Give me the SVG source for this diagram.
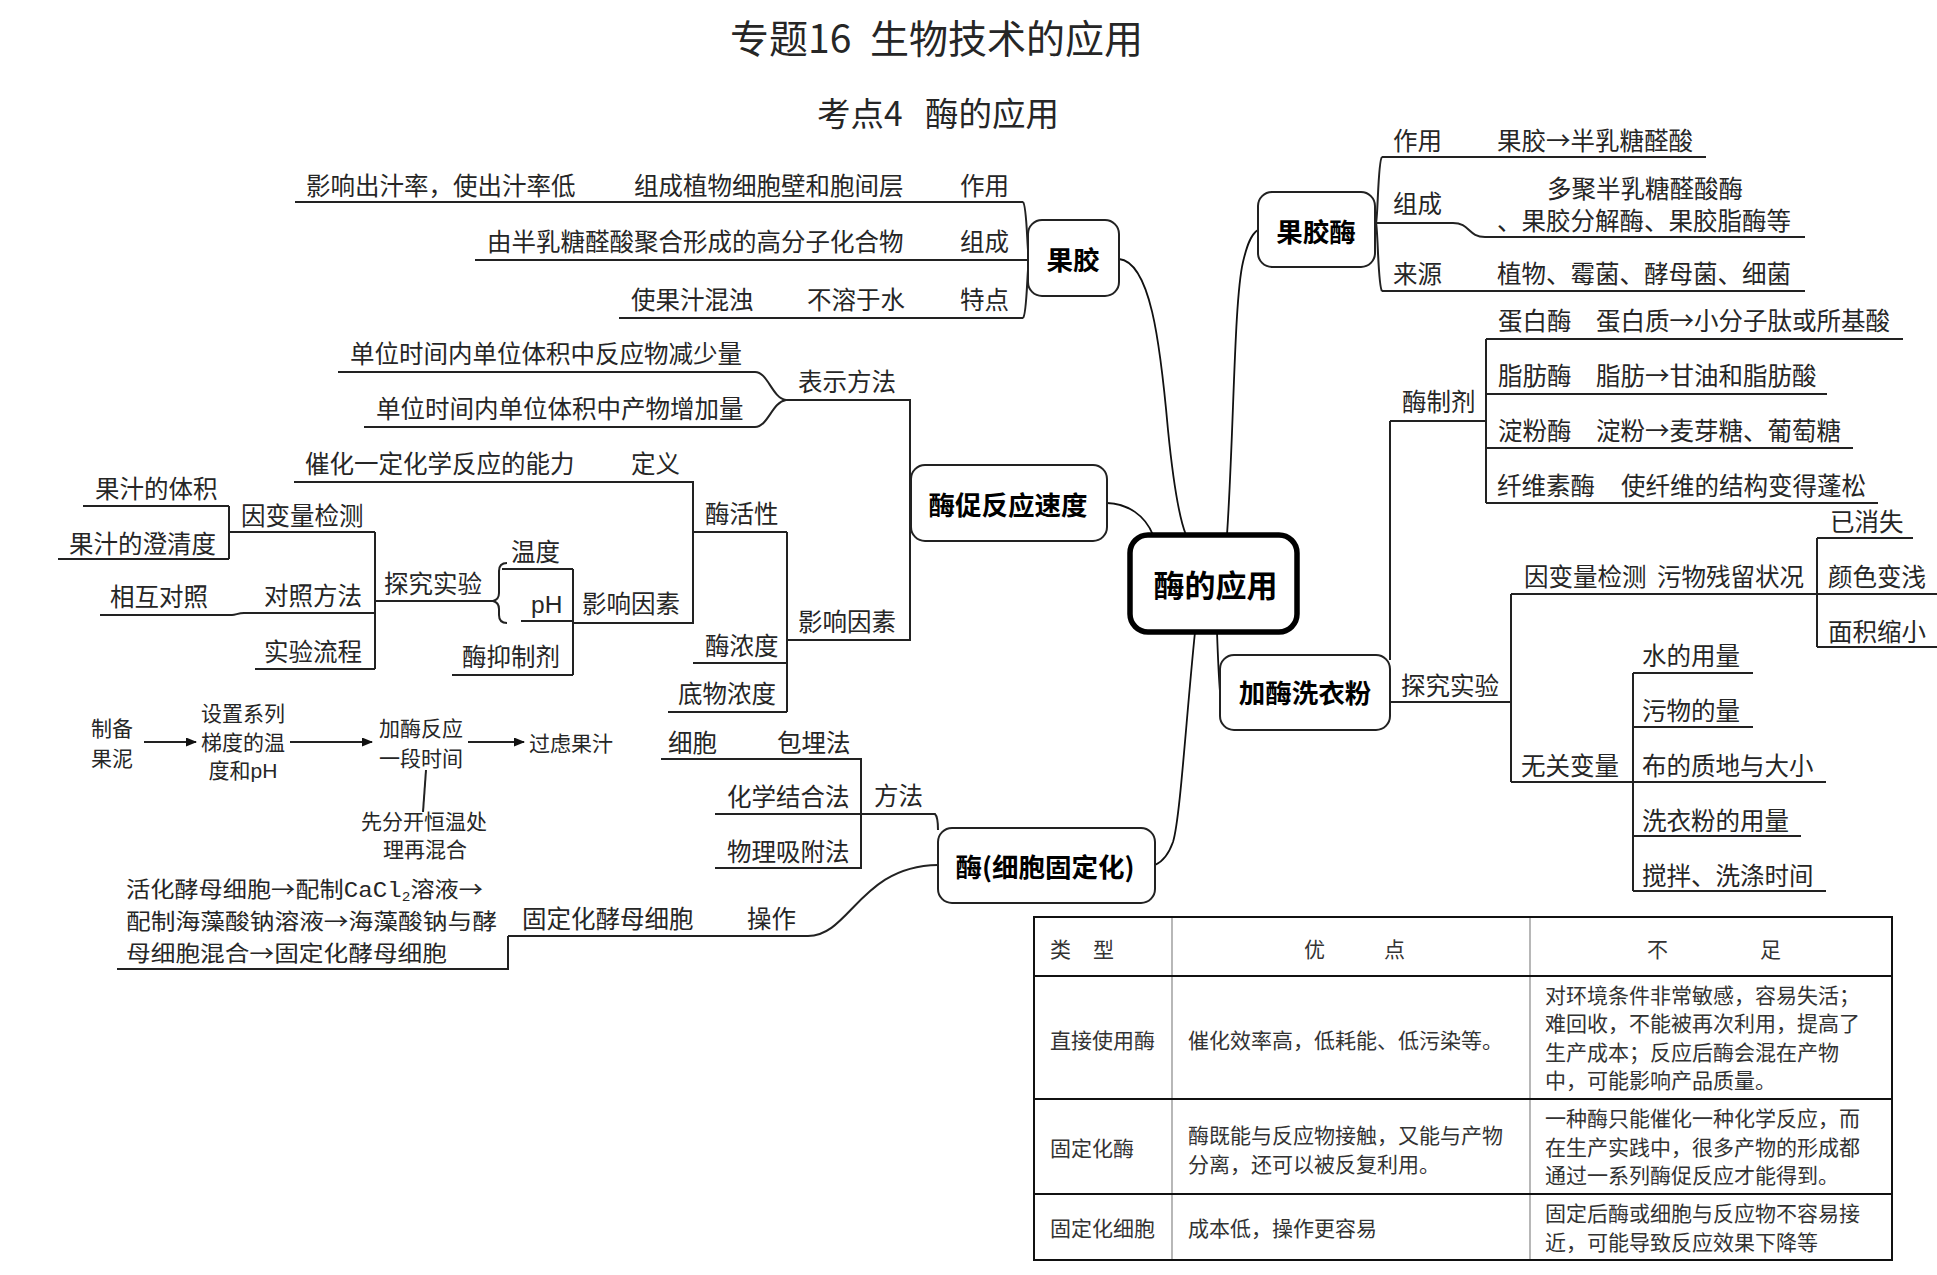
<svg xmlns="http://www.w3.org/2000/svg" width="1937" height="1275" viewBox="0 0 1937 1275">
<defs>
<style>
text{font-family:"Noto Sans CJK SC","Noto Sans",sans-serif;fill:#262626}
.t{font-size:24.5px}
.s{font-size:21.8px}
.f{font-size:21px}
.c{font-size:21px;fill:#333}
.b{font-size:26.5px;font-weight:700;fill:#000;text-anchor:middle}
.bc{font-size:31px;font-weight:700;fill:#000;text-anchor:middle}
.m{text-anchor:middle}
.en{font-family:"Liberation Sans",Arial,sans-serif}
.mono{font-family:"Liberation Mono","Courier New",monospace}
.ln{fill:none;stroke:#222;stroke-width:2}
.cv{fill:none;stroke:#111;stroke-width:1.8}
.box{fill:#fff;stroke:#222;stroke-width:2}
.tl{stroke:#888;stroke-width:1.2}
.tr{stroke:#111;stroke-width:2}
</style>
<marker id="ah" markerWidth="11" markerHeight="9" refX="10" refY="4.5" orient="auto" markerUnits="userSpaceOnUse"><path d="M0,0 L11,4.5 L0,9 Z" fill="#111"/></marker>
</defs>
<rect width="1937" height="1275" fill="#fff"/>

<g id="title">
<text x="730" y="53" font-size="39">专题16</text>
<text x="870" y="53" font-size="39">生物技术的应用</text>
<text x="817" y="126" font-size="33.5" fill="#333">考点4</text>
<text x="925" y="126" font-size="33.5" fill="#333">酶的应用</text>
</g>

<g id="connectors">
<path class="cv" d="M1119,259 C1150,262 1160,340 1168,430 C1174,490 1180,520 1186,535"/>
<path class="cv" d="M1227,535 C1234,430 1234,300 1243,262 C1247,245 1251,234 1258,230"/>
<path class="cv" d="M1107,503 C1128,504 1145,515 1153,535"/>
<path class="cv" d="M1217,632 C1218,660 1219,680 1220,692"/>
<path class="cv" d="M1195,632 C1186,720 1180,820 1173,842 C1168,856 1162,862 1155,865"/>

<path class="ln" d="M295,202 H1023"/>
<path class="ln" d="M475,260 H1029"/>
<path class="ln" d="M619,318 H1023"/>
<path class="ln" d="M1023,202 C1027,205 1027,250 1029,260 C1027,270 1027,315 1023,318"/>

<path class="ln" d="M338,372 H755 C768,372 772,398 786,400"/>
<path class="ln" d="M364,427 H755 C768,427 772,402 786,400"/>
<path class="ln" d="M786,400 H910 V640 H786"/>
<path class="ln" d="M787,532 V712"/>
<path class="ln" d="M693,532 H787"/>
<path class="ln" d="M294,482 H693 V623 H573"/>
<path class="ln" d="M693,663 H787"/>
<path class="ln" d="M668,712 H787"/>
<path class="ln" d="M573,569 V675"/>
<path class="ln" d="M502,569 H573"/>
<path class="ln" d="M521,621 H573"/>
<path class="ln" d="M452,675 H573"/>
<path class="ln" d="M507,563 C501,563 499,566 499,571 V593 C499,598 497,600 493,601 C497,602 499,604 499,609 V615 C499,620 501,623 507,623"/>
<path class="ln" d="M375,601 H493"/>
<path class="ln" d="M375,532 V669"/>
<path class="ln" d="M229,532 H375"/>
<path class="ln" d="M229,506 V559"/>
<path class="ln" d="M83,506 H229"/>
<path class="ln" d="M58,559 H229"/>
<path class="ln" d="M100,615 H232 C236,615 238,613 244,613 H375"/>
<path class="ln" d="M255,669 H375"/>

<path class="ln" d="M144,742 H196" marker-end="url(#ah)"/>
<path class="ln" d="M290,742 H372" marker-end="url(#ah)"/>
<path class="ln" d="M468,742 H524" marker-end="url(#ah)"/>
<path class="ln" d="M426,770 L423,812" stroke-width="1.5"/>

<path class="ln" d="M661,759 H861 V868 H715"/>
<path class="ln" d="M715,814 H935 C937,816 938,824 938,830"/>
<path class="ln" d="M508,936 H808 C850,936 860,866 938,865"/>
<path class="ln" d="M117,969 H508 V936"/>

<path class="ln" d="M1382,157 H1706"/>
<path class="ln" d="M1375,223 H1453 C1470,223 1468,237 1485,237 H1805"/>
<path class="ln" d="M1382,291 H1805"/>
<path class="ln" d="M1382,157 C1378,160 1378,215 1376,223 C1378,231 1378,287 1382,291"/>

<path class="ln" d="M1390,421 H1486"/>
<path class="ln" d="M1486,339 V503"/>
<path class="ln" d="M1486,339 H1903"/>
<path class="ln" d="M1486,394 H1827"/>
<path class="ln" d="M1486,448 H1853"/>
<path class="ln" d="M1486,503 H1878"/>
<path class="ln" d="M1390,421 V660"/>

<path class="ln" d="M1390,702 H1511"/>
<path class="ln" d="M1511,594 V782"/>
<path class="ln" d="M1511,594 H1937"/>
<path class="ln" d="M1817,538 V647"/>
<path class="ln" d="M1817,538 H1913"/>
<path class="ln" d="M1817,647 H1937"/>
<path class="ln" d="M1511,782 H1633"/>
<path class="ln" d="M1633,673 V891"/>
<path class="ln" d="M1633,673 H1753"/>
<path class="ln" d="M1633,727 H1753"/>
<path class="ln" d="M1633,782 H1826"/>
<path class="ln" d="M1633,836 H1801"/>
<path class="ln" d="M1633,891 H1826"/>
</g>

<g id="center">
<rect x="1130" y="535" width="167" height="97" rx="18" fill="#fff" stroke="#000" stroke-width="5.5"/>
<text x="1215.5" y="597" class="bc">酶的应用</text>
</g>
<g id="guojiao">
<rect class="box" x="1028" y="220" width="91" height="76" rx="14"/>
<text x="1073" y="270" class="b">果胶</text>
</g>
<g id="mucu">
<rect class="box" x="911" y="465" width="196" height="76" rx="14"/>
<text x="1008" y="515" class="b">酶促反应速度</text>
</g>
<g id="guojiaomei">
<rect class="box" x="1258" y="192" width="117" height="75" rx="14"/>
<text x="1316" y="242" class="b">果胶酶</text>
</g>
<g id="xiyifen">
<rect class="box" x="1220" y="655" width="170" height="75" rx="14"/>
<text x="1305" y="703" class="b">加酶洗衣粉</text>
</g>
<g id="guding">
<rect class="box" x="938" y="828" width="217" height="75" rx="14"/>
<text x="1045" y="877" class="b">酶(细胞固定化)</text>
</g>

<g id="gj-zuoyong"><text class="t" x="306" y="195">影响出汁率，使出汁率低</text><text class="t" x="634" y="195">组成植物细胞壁和胞间层</text><text class="t" x="960" y="195">作用</text></g>
<g id="gj-zucheng"><text class="t" x="487" y="251">由半乳糖醛酸聚合形成的高分子化合物</text><text class="t" x="960" y="251">组成</text></g>
<g id="gj-tedian"><text class="t" x="631" y="309">使果汁混浊</text><text class="t" x="807" y="309">不溶于水</text><text class="t" x="960" y="309">特点</text></g>

<g id="biaoshi"><text class="t" x="798" y="391">表示方法</text></g>
<g id="biaoshi-1"><text class="t" x="350" y="363">单位时间内单位体积中反应物减少量</text></g>
<g id="biaoshi-2"><text class="t" x="376" y="418">单位时间内单位体积中产物增加量</text></g>
<g id="yingxiang"><text class="t" x="798" y="631">影响因素</text></g>
<g id="mhx"><text class="t" x="705" y="523">酶活性</text></g>
<g id="dingyi"><text class="t" x="305" y="473">催化一定化学反应的能力</text><text class="t" x="631" y="473">定义</text></g>
<g id="mnd"><text class="t" x="705" y="655">酶浓度</text></g>
<g id="dwnd"><text class="t" x="678" y="703">底物浓度</text></g>
<g id="yingxiang2"><text class="t" x="582" y="613">影响因素</text></g>
<g id="wendu"><text class="t" x="511" y="561">温度</text></g>
<g id="ph"><text class="t en" x="531" y="613">pH</text></g>
<g id="yizhiji"><text class="t" x="462" y="666">酶抑制剂</text></g>
<g id="tanjiu"><text class="t" x="384" y="593">探究实验</text></g>
<g id="yinbianliang"><text class="t" x="241" y="525">因变量检测</text></g>
<g id="tiji"><text class="t" x="95" y="498">果汁的体积</text></g>
<g id="chengqing"><text class="t" x="69" y="553">果汁的澄清度</text></g>
<g id="duizhao"><text class="t" x="264" y="605">对照方法</text></g>
<g id="huxiang"><text class="t" x="110" y="606">相互对照</text></g>
<g id="liucheng"><text class="t" x="264" y="661">实验流程</text></g>

<g id="flow">
<text class="f m" x="112" y="736">制备<tspan x="112" dy="30">果泥</tspan></text>
<text class="f m" x="243" y="721">设置系列<tspan x="243" dy="29">梯度的温</tspan><tspan x="243" dy="28">度和</tspan><tspan class="en">pH</tspan></text>
<text class="f m" x="421" y="736">加酶反应<tspan x="421" dy="30">一段时间</tspan></text>
<text class="f" x="529" y="751">过虑果汁</text>
<text class="f m" x="424" y="829">先分开恒温处<tspan x="425" dy="28">理再混合</tspan></text>
</g>

<g id="baomai"><text class="t" x="668" y="752">细胞</text><text class="t" x="777" y="752">包埋法</text></g>
<g id="huaxue"><text class="t" x="727" y="806">化学结合法</text></g>
<g id="fangfa"><text class="t" x="874" y="805">方法</text></g>
<g id="wuli"><text class="t" x="727" y="861">物理吸附法</text></g>
<g id="caozuo"><text class="t" x="522" y="928">固定化酵母细胞</text><text class="t" x="747" y="928">操作</text></g>
<g id="buzhou">
<text class="s" x="126" y="897" textLength="357" lengthAdjust="spacingAndGlyphs">活化酵母细胞→配制<tspan class="mono">CaCl</tspan><tspan class="mono" font-size="13" dy="4">2</tspan><tspan dy="-4">溶液→</tspan></text>
<text class="s" x="126" y="929" textLength="371" lengthAdjust="spacingAndGlyphs">配制海藻酸钠溶液→海藻酸钠与酵</text>
<text class="s" x="126" y="961" textLength="321" lengthAdjust="spacingAndGlyphs">母细胞混合→固定化酵母细胞</text>
</g>

<g id="gjm-zuoyong"><text class="t" x="1393" y="150">作用</text><text class="t" x="1497" y="150">果胶→半乳糖醛酸</text></g>
<g id="gjm-zucheng"><text class="t" x="1393" y="213">组成</text><text class="t" x="1547" y="198">多聚半乳糖醛酸酶<tspan x="1497" dy="32">、果胶分解酶、果胶脂酶等</tspan></text></g>
<g id="gjm-laiyuan"><text class="t" x="1393" y="283">来源</text><text class="t" x="1497" y="283">植物、霉菌、酵母菌、细菌</text></g>

<g id="meizhiji"><text class="t" x="1402" y="411">酶制剂</text></g>
<g id="danbai"><text class="t" x="1498" y="330">蛋白酶</text><text class="t" x="1596" y="330">蛋白质→小分子肽或所基酸</text></g>
<g id="zhifang"><text class="t" x="1498" y="385">脂肪酶</text><text class="t" x="1596" y="385">脂肪→甘油和脂肪酸</text></g>
<g id="dianfen"><text class="t" x="1498" y="440">淀粉酶</text><text class="t" x="1596" y="440">淀粉→麦芽糖、葡萄糖</text></g>
<g id="xianwei"><text class="t" x="1497" y="495">纤维素酶</text><text class="t" x="1621" y="495">使纤维的结构变得蓬松</text></g>

<g id="xy-tanjiu"><text class="t" x="1401" y="695">探究实验</text></g>
<g id="xy-yinbian"><text class="t" x="1524" y="586">因变量检测</text><text class="t" x="1657" y="586">污物残留状况</text></g>
<g id="yixiaoshi"><text class="t" x="1830" y="531">已消失</text></g>
<g id="yanse"><text class="t" x="1828" y="586">颜色变浅</text></g>
<g id="mianji"><text class="t" x="1828" y="641">面积缩小</text></g>
<g id="wuguan"><text class="t" x="1521" y="775">无关变量</text></g>
<g id="shui"><text class="t" x="1642" y="665">水的用量</text></g>
<g id="wuwu"><text class="t" x="1642" y="720">污物的量</text></g>
<g id="bu"><text class="t" x="1642" y="775">布的质地与大小</text></g>
<g id="xyf"><text class="t" x="1642" y="830">洗衣粉的用量</text></g>
<g id="jiaoban"><text class="t" x="1642" y="885">搅拌、洗涤时间</text></g>

<g id="table">
<line class="tl" x1="1172" y1="917" x2="1172" y2="1260"/>
<line class="tl" x1="1530" y1="917" x2="1530" y2="1260"/>
<line class="tr" x1="1034" y1="976" x2="1892" y2="976"/>
<line class="tr" x1="1034" y1="1099" x2="1892" y2="1099"/>
<line class="tr" x1="1034" y1="1194" x2="1892" y2="1194"/>
<rect x="1034" y="917" width="858" height="343" fill="none" stroke="#111" stroke-width="2"/>
<text class="c" x="1050" y="957">类</text><text class="c" x="1093" y="957">型</text>
<text class="c" x="1304" y="957">优</text><text class="c" x="1384" y="957">点</text>
<text class="c" x="1647" y="957">不</text><text class="c" x="1760" y="957">足</text>
<text class="c" x="1050" y="1048">直接使用酶</text>
<text class="c" x="1188" y="1048">催化效率高，低耗能、低污染等。</text>
<text class="c" x="1545" y="1003">对环境条件非常敏感，容易失活；<tspan x="1545" dy="28.3">难回收，不能被再次利用，提高了</tspan><tspan x="1545" dy="28.3">生产成本；反应后酶会混在产物</tspan><tspan x="1545" dy="28.3">中，可能影响产品质量。</tspan></text>
<text class="c" x="1050" y="1156">固定化酶</text>
<text class="c" x="1188" y="1143">酶既能与反应物接触，又能与产物<tspan x="1188" dy="29">分离，还可以被反复利用。</tspan></text>
<text class="c" x="1545" y="1126">一种酶只能催化一种化学反应，而<tspan x="1545" dy="28.5">在生产实践中，很多产物的形成都</tspan><tspan x="1545" dy="28.5">通过一系列酶促反应才能得到。</tspan></text>
<text class="c" x="1050" y="1236">固定化细胞</text>
<text class="c" x="1188" y="1236">成本低，操作更容易</text>
<text class="c" x="1545" y="1221">固定后酶或细胞与反应物不容易接<tspan x="1545" dy="29">近，可能导致反应效果下降等</tspan></text>
</g>
</svg>
